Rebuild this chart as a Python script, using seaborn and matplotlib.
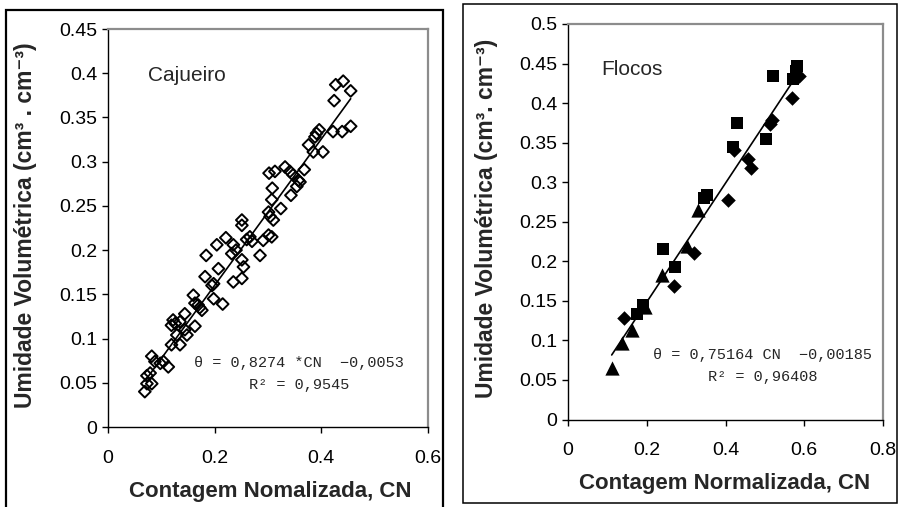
import matplotlib
matplotlib.use("Agg")
import matplotlib.pyplot as plt
from matplotlib.patches import Rectangle
import numpy as np
import pandas as pd
import seaborn as sns

# ---- Cajueiro: normalized count (CN) vs volumetric moisture ----
caj_cn = [0.069, 0.073, 0.082, 0.073, 0.079, 0.082, 0.088, 0.098, 0.104, 0.113,
          0.119, 0.135, 0.129, 0.144, 0.148, 0.163, 0.122, 0.119, 0.126, 0.135, 0.144,
          0.169, 0.176, 0.160, 0.172, 0.198, 0.215, 0.163,
          0.182, 0.198, 0.195, 0.207, 0.235, 0.251, 0.254, 0.251,
          0.184, 0.204, 0.221, 0.232, 0.235, 0.240, 0.285, 0.291, 0.266, 0.270, 0.260,
          0.251, 0.251, 0.301, 0.307, 0.301, 0.304, 0.310, 0.307, 0.324, 0.308, 0.343,
          0.313, 0.302, 0.332, 0.341, 0.347, 0.357, 0.360, 0.354,
          0.368, 0.376, 0.385, 0.403, 0.396, 0.391, 0.388,
          0.422, 0.439, 0.455, 0.424, 0.441, 0.427, 0.455]
caj_theta = [0.040, 0.049, 0.049, 0.058, 0.061, 0.080, 0.074, 0.072, 0.074, 0.068,
             0.093, 0.093, 0.104, 0.110, 0.104, 0.114, 0.121, 0.115, 0.117, 0.119, 0.128,
             0.138, 0.132, 0.149, 0.135, 0.145, 0.139, 0.140,
             0.170, 0.162, 0.160, 0.179, 0.164, 0.168, 0.181, 0.189,
             0.194, 0.206, 0.214, 0.196, 0.206, 0.200, 0.194, 0.211, 0.215, 0.210, 0.212,
             0.228, 0.234, 0.217, 0.215, 0.243, 0.238, 0.234, 0.257, 0.247, 0.270, 0.262,
             0.289, 0.287, 0.294, 0.289, 0.285, 0.279, 0.277, 0.272,
             0.291, 0.319, 0.311, 0.311, 0.336, 0.332, 0.328,
             0.334, 0.334, 0.340, 0.369, 0.391, 0.387, 0.380]
caj_slope, caj_intercept, caj_r2 = 0.8274, -0.0053, 0.9545

# ---- Flocos: three sample groups ----
floc_group = ["quadrado"] * 13 + ["losango"] * 11 + ["triangulo"] * 7
floc_cn = [0.582, 0.521, 0.572, 0.430, 0.502, 0.420, 0.352, 0.345, 0.242, 0.272, 0.191, 0.176, 0.580,
           0.587, 0.570, 0.517, 0.513, 0.421, 0.458, 0.464, 0.407, 0.320, 0.270, 0.142,
           0.331, 0.301, 0.238, 0.196, 0.162, 0.137, 0.111]
floc_theta = [0.447, 0.434, 0.431, 0.375, 0.355, 0.345, 0.284, 0.280, 0.215, 0.193, 0.145, 0.134, 0.440,
              0.434, 0.407, 0.379, 0.373, 0.341, 0.329, 0.318, 0.278, 0.210, 0.169, 0.128,
              0.265, 0.219, 0.183, 0.142, 0.113, 0.097, 0.065]
floc_slope, floc_intercept, floc_r2 = 0.75164, -0.00185, 0.96408

left_xticks = [0, 0.2, 0.4, 0.6]
left_yticks = [0, 0.05, 0.1, 0.15, 0.2, 0.25, 0.3, 0.35, 0.4, 0.45]
right_xticks = [0, 0.2, 0.4, 0.6, 0.8]
right_yticks = [0, 0.05, 0.1, 0.15, 0.2, 0.25, 0.3, 0.35, 0.4, 0.45, 0.5]

xlabel_left = "Contagem Nomalizada, CN"
xlabel_right = "Contagem Normalizada, CN"
ylabel_left = "Umidade Volumétrica (cm³ . cm⁻³)"
ylabel_right = "Umidade Volumétrica (cm³. cm⁻³)"

sns.set_style("white")
plt.rcParams["font.family"] = ["Liberation Sans", "DejaVu Sans"]

W, H = 902, 507
fig = plt.figure(figsize=(W / 100, H / 100), dpi=100)


def px_box(x0, y_top, x1, y_bot):
    return [x0 / W, 1 - y_bot / H, (x1 - x0) / W, (y_bot - y_top) / H]


# outer frames of the two charts
fig.add_artist(Rectangle((6 / W, -0.02), (443 - 6) / W, 1 - 10 / H + 0.02,
                         transform=fig.transFigure, fill=False, ec="black", lw=1.6))
fig.add_artist(Rectangle((463 / W, 1 - 503 / H), (897 - 463) / W, (503 - 4) / H,
                         transform=fig.transFigure, fill=False, ec="black", lw=1.1))

axL = fig.add_axes(px_box(108, 29, 428, 427))
axR = fig.add_axes(px_box(568, 24, 883, 419.5))

mono = ["Liberation Mono", "DejaVu Sans Mono"]


def style_axes(ax, xticks, yticks):
    ax.set_xlim(xticks[0], xticks[-1])
    ax.set_ylim(yticks[0], yticks[-1])
    ax.set_xticks(xticks)
    ax.set_xticklabels([f"{v:g}" for v in xticks])
    ax.set_yticks(yticks)
    ax.set_yticklabels([f"{v:g}" for v in yticks])
    ax.tick_params(axis="x", direction="out", length=4.5, width=1, pad=12,
                   labelsize=14, colors="black", bottom=True)
    ax.tick_params(axis="y", direction="out", length=4.5, width=1, pad=3,
                   labelsize=14, colors="black", left=True)
    for side in ("left", "bottom"):
        ax.spines[side].set_color("black")
        ax.spines[side].set_linewidth(1.0)
    for side in ("top", "right"):
        ax.spines[side].set_color("#8c8c8c")
        ax.spines[side].set_linewidth(1.6)
    ax.set_xlabel("")
    ax.set_ylabel("")
    ax.grid(False)


def fmt(v, nd):
    return f"{abs(v):.{nd}f}".replace(".", ",")


# ---- left chart ----
sns.scatterplot(x=caj_cn, y=caj_theta, ax=axL, marker="D", s=36,
                facecolor="none", edgecolor="black", linewidth=1.4, zorder=3)
xl = np.array([min(caj_cn), max(caj_cn)])
sns.lineplot(x=xl, y=caj_slope * xl + caj_intercept, ax=axL, color="black", lw=1.2, zorder=2)
style_axes(axL, left_xticks, left_yticks)
axL.text(0.125, 0.884, "Cajueiro", transform=axL.transAxes, fontsize=15, va="center", ha="left")
axL.text(0.358, 0.0724, f"θ = {fmt(caj_slope, 4)} *CN  −{fmt(caj_intercept, 4)}",
         family=mono, fontsize=11, ha="center", va="center")
axL.text(0.358, 0.0475, f"R² = {fmt(caj_r2, 4)}", family=mono, fontsize=11,
         ha="center", va="center")

# ---- right chart ----
floc = pd.DataFrame({"cn": floc_cn, "theta": floc_theta, "grupo": floc_group})
sizes = {"quadrado": 75, "losango": 55, "triangulo": 105}
marks = {"quadrado": "s", "losango": "D", "triangulo": "^"}
for g in ["quadrado", "losango", "triangulo"]:
    sub = floc[floc["grupo"] == g]
    sns.scatterplot(data=sub, x="cn", y="theta", ax=axR, marker=marks[g], s=sizes[g],
                    color="black", edgecolor="black", linewidth=0, zorder=3, legend=False)
xr = np.array([min(floc_cn), 0.571])
sns.lineplot(x=xr, y=floc_slope * xr + floc_intercept, ax=axR, color="black", lw=1.2, zorder=2)
style_axes(axR, right_xticks, right_yticks)
axR.text(0.105, 0.884, "Flocos", transform=axR.transAxes, fontsize=15, va="center", ha="left")
axR.text(0.495, 0.0816, f"θ = {fmt(floc_slope, 5)} CN  −{fmt(floc_intercept, 5)}",
         family=mono, fontsize=11, ha="center", va="center")
axR.text(0.495, 0.0538, f"R² = {fmt(floc_r2, 5)}", family=mono, fontsize=11,
         ha="center", va="center")

# axis titles
fig.text(270 / W, 1 - 492 / H, xlabel_left, fontsize=16, fontweight="bold", ha="center", va="center")
fig.text(725 / W, 1 - 483 / H, xlabel_right, fontsize=16, fontweight="bold", ha="center", va="center")
fig.text(26 / W, 1 - 225 / H, ylabel_left, fontsize=16.5, fontweight="bold", rotation=90,
         ha="center", va="center")
fig.text(486 / W, 1 - 218 / H, ylabel_right, fontsize=16.5, fontweight="bold", rotation=90,
         ha="center", va="center")

fig.savefig("out.png", dpi=100)
